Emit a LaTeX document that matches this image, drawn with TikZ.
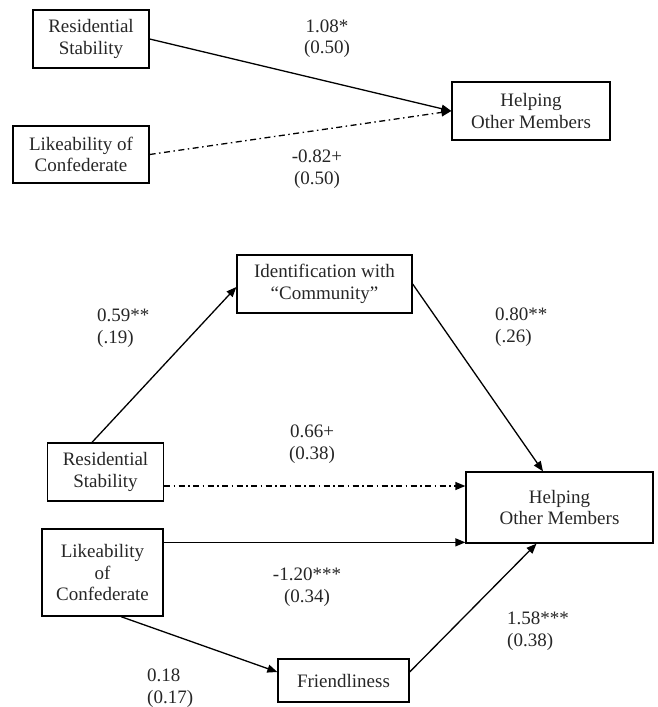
\documentclass[tikz,border=0pt]{standalone}
\usepackage{fontspec}
\setmainfont{Liberation Serif}
\usetikzlibrary{arrows.meta}
\begin{document}
\begin{tikzpicture}[x=1pt,y=-1pt,
  box/.style={draw, line width=1.3pt, rectangle, align=center, inner sep=0pt,
    font=\fontsize{19}{21.5}\selectfont, text=black!85},
  lbl/.style={font=\fontsize{19}{21.5}\selectfont, inner sep=0pt, text=black!85},
  pathline/.style={line width=1.3pt, -{Triangle[length=10pt,width=8pt]}},
  dashdot/.style={dash pattern=on 6pt off 3.5pt on 1.5pt off 3.5pt}]
\useasboundingbox (0,0) rectangle (657,707);

% ---- top panel ----
\node[box, minimum width=116pt, minimum height=58pt] (rs1) at (91,39) {Residential\\Stability};
\node[box, minimum width=136pt, minimum height=57pt] (lk1) at (81,154.5) {Likeability of\\Confederate};
\node[box, minimum width=158pt, minimum height=58pt] (hp1) at (531,111) {Helping\\Other Members};

\draw[pathline] (rs1.east) -- (hp1.west);
\draw[pathline, dashdot] (lk1.east) -- (hp1.west);

\node[lbl, align=center] (l1) at (327,38.5) {1.08*\\(0.50)};
\node[lbl, align=center] (l2) at (317,169) {-0.82+\\(0.50)};

% ---- bottom panel ----
\node[box, minimum width=175pt, minimum height=58pt] (id) at (324.5,284) {Identification with\\“Community”};
\node[box, minimum width=116pt, minimum height=58pt] (rs2) at (105.5,472) {Residential\\Stability};
\node[box, minimum width=121pt, minimum height=87pt] (lk2) at (102.5,572.5) {Likeability\\of\\Confederate};
\node[box, minimum width=187pt, minimum height=71pt] (hp2) at (559.5,507.5) {Helping\\Other Members};
\node[box, minimum width=131pt, minimum height=43pt] (fr) at (343.5,680.5) {Friendliness};

\coordinate (d1) at ([yshift=-14pt]rs2.east);
\coordinate (d2) at ([yshift=-14pt]lk2.north east);

\draw[pathline] ([xshift=-13.5pt]rs2.north) -- ([yshift=-3pt]id.west);
\draw[pathline] (id.east) -- ([xshift=-16.5pt]hp2.north);
\draw[pathline, dashdot] (d1) -- (d1 -| hp2.west);
\draw[pathline] (d2) -- (d2 -| hp2.west);
\draw[pathline] ([xshift=18.5pt]lk2.south) -- ([yshift=8.5pt]fr.west);
\draw[pathline] ([yshift=8.5pt]fr.east) -- ([xshift=-23pt]hp2.south);

\node[lbl, align=left, anchor=west] (l3) at (97,328) {0.59**\\(.19)};
\node[lbl, align=left, anchor=west] (l4) at (495,327) {0.80**\\(.26)};
\node[lbl, align=center] (l5) at (312,444) {0.66+\\(0.38)};
\node[lbl, align=center] (l6) at (307,587) {-1.20***\\(0.34)};
\node[lbl, align=left, anchor=west] (l7) at (147,688) {0.18\\(0.17)};
\node[lbl, align=left, anchor=west] (l8) at (507,631) {1.58***\\(0.38)};
\end{tikzpicture}
\end{document}
